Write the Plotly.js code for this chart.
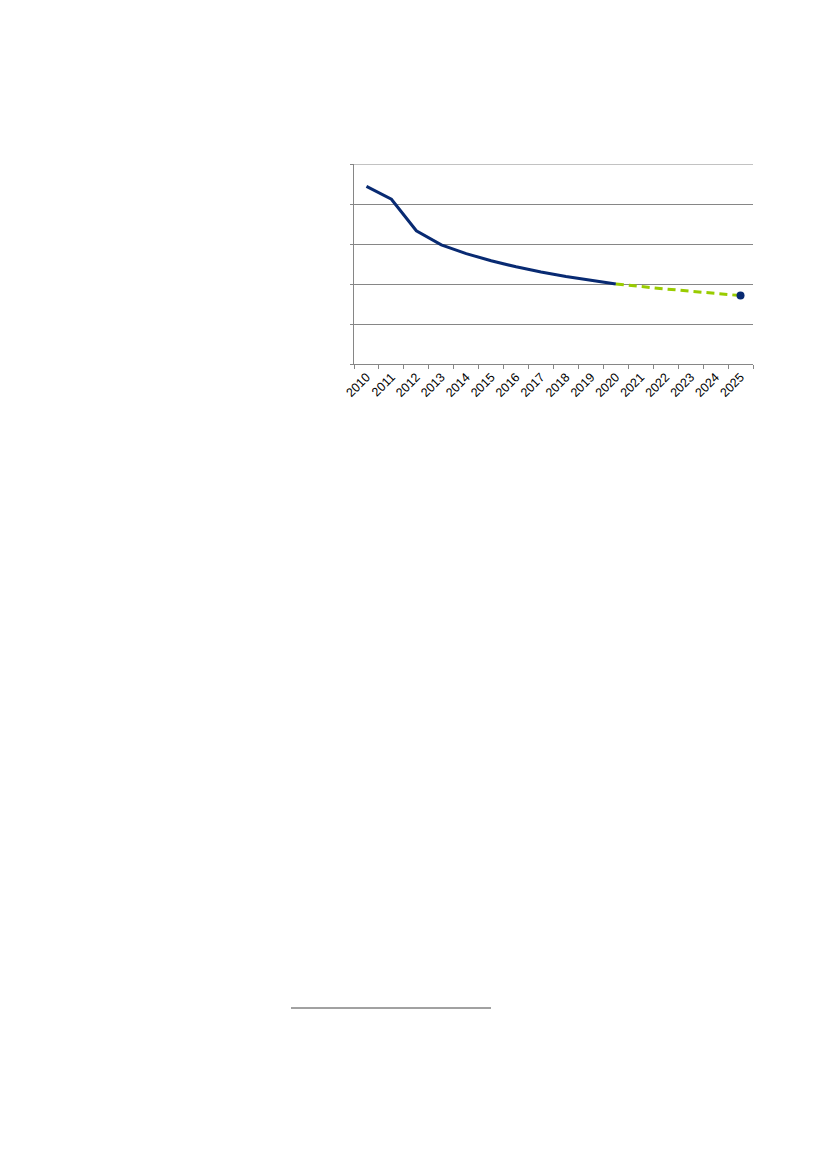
<!DOCTYPE html>
<html>
<head>
<meta charset="utf-8">
<script src="https://cdn.plot.ly/plotly-3.0.1.min.js"></script>
<style>html,body{margin:0;padding:0;background:#fff;}</style>
</head>
<body>
<div id="chart" style="width:827px;height:1169px;"></div>
<script>
const years = ["2010","2011","2012","2013","2014","2015","2016","2017","2018","2019","2020","2021","2022","2023","2024","2025"];
const actual = [4.44, 4.12, 3.33, 2.98, 2.76, 2.58, 2.43, 2.30, 2.19, 2.09, 2.00, null, null, null, null, null];
const projection = [null, null, null, null, null, null, null, null, null, null, 2.00, 1.93, 1.875, 1.82, 1.77, 1.71];
const targetYear = ["2025"];
const targetValue = [1.71];

const FONT = '"Liberation Sans", Arial, Helvetica, sans-serif';

const traces = [
  {x: years, y: actual, type: 'scatter', mode: 'lines',
   line: {color: '#082a72', width: 3}, hoverinfo: 'skip'},
  {x: years, y: projection, type: 'scatter', mode: 'lines',
   line: {color: '#99cc00', width: 3, dash: '8px,5px'}, hoverinfo: 'skip'},
  {x: targetYear, y: targetValue, type: 'scatter', mode: 'markers',
   marker: {color: '#082a72', size: 8}, hoverinfo: 'skip'}
];

const layout = {
  width: 827, height: 1169,
  margin: {l: 354, r: 74, t: 164, b: 805, pad: 0},
  paper_bgcolor: '#fff', plot_bgcolor: '#fff',
  showlegend: false,
  font: {family: FONT, size: 12, color: '#000'},
  xaxis: {
    type: 'category', categoryorder: 'array', categoryarray: years,
    range: [-0.5, 15.5],
    tickangle: -45, tickson: 'boundaries', ticks: 'outside', ticklen: 4,
    tickcolor: '#868686', tickwidth: 1,
    showline: true, linecolor: '#868686', linewidth: 1,
    showgrid: false, zeroline: false,
    tickfont: {family: FONT, size: 12.5, color: '#000'}
  },
  yaxis: {
    range: [0, 5], dtick: 1, tick0: 0,
    showticklabels: false, ticks: 'outside', ticklen: 3,
    tickcolor: '#868686',
    showline: true, linecolor: '#868686', linewidth: 1,
    showgrid: true, gridcolor: '#868686', gridwidth: 1,
    zeroline: false
  },
  shapes: [
    {type: 'line', xref: 'paper', yref: 'y', x0: 0, x1: 1, y0: 5, y1: 5,
     line: {color: '#868686', width: 1}, layer: 'below'},
    {type: 'line', xref: 'paper', yref: 'paper',
     x0: (291 - 354) / 399, x1: (491 - 354) / 399,
     y0: (364 - 1008) / 200, y1: (364 - 1008) / 200,
     line: {color: '#444444', width: 1}}
  ]
};

Plotly.newPlot('chart', traces, layout, {staticPlot: true, displayModeBar: false});
</script>
</body>
</html>
